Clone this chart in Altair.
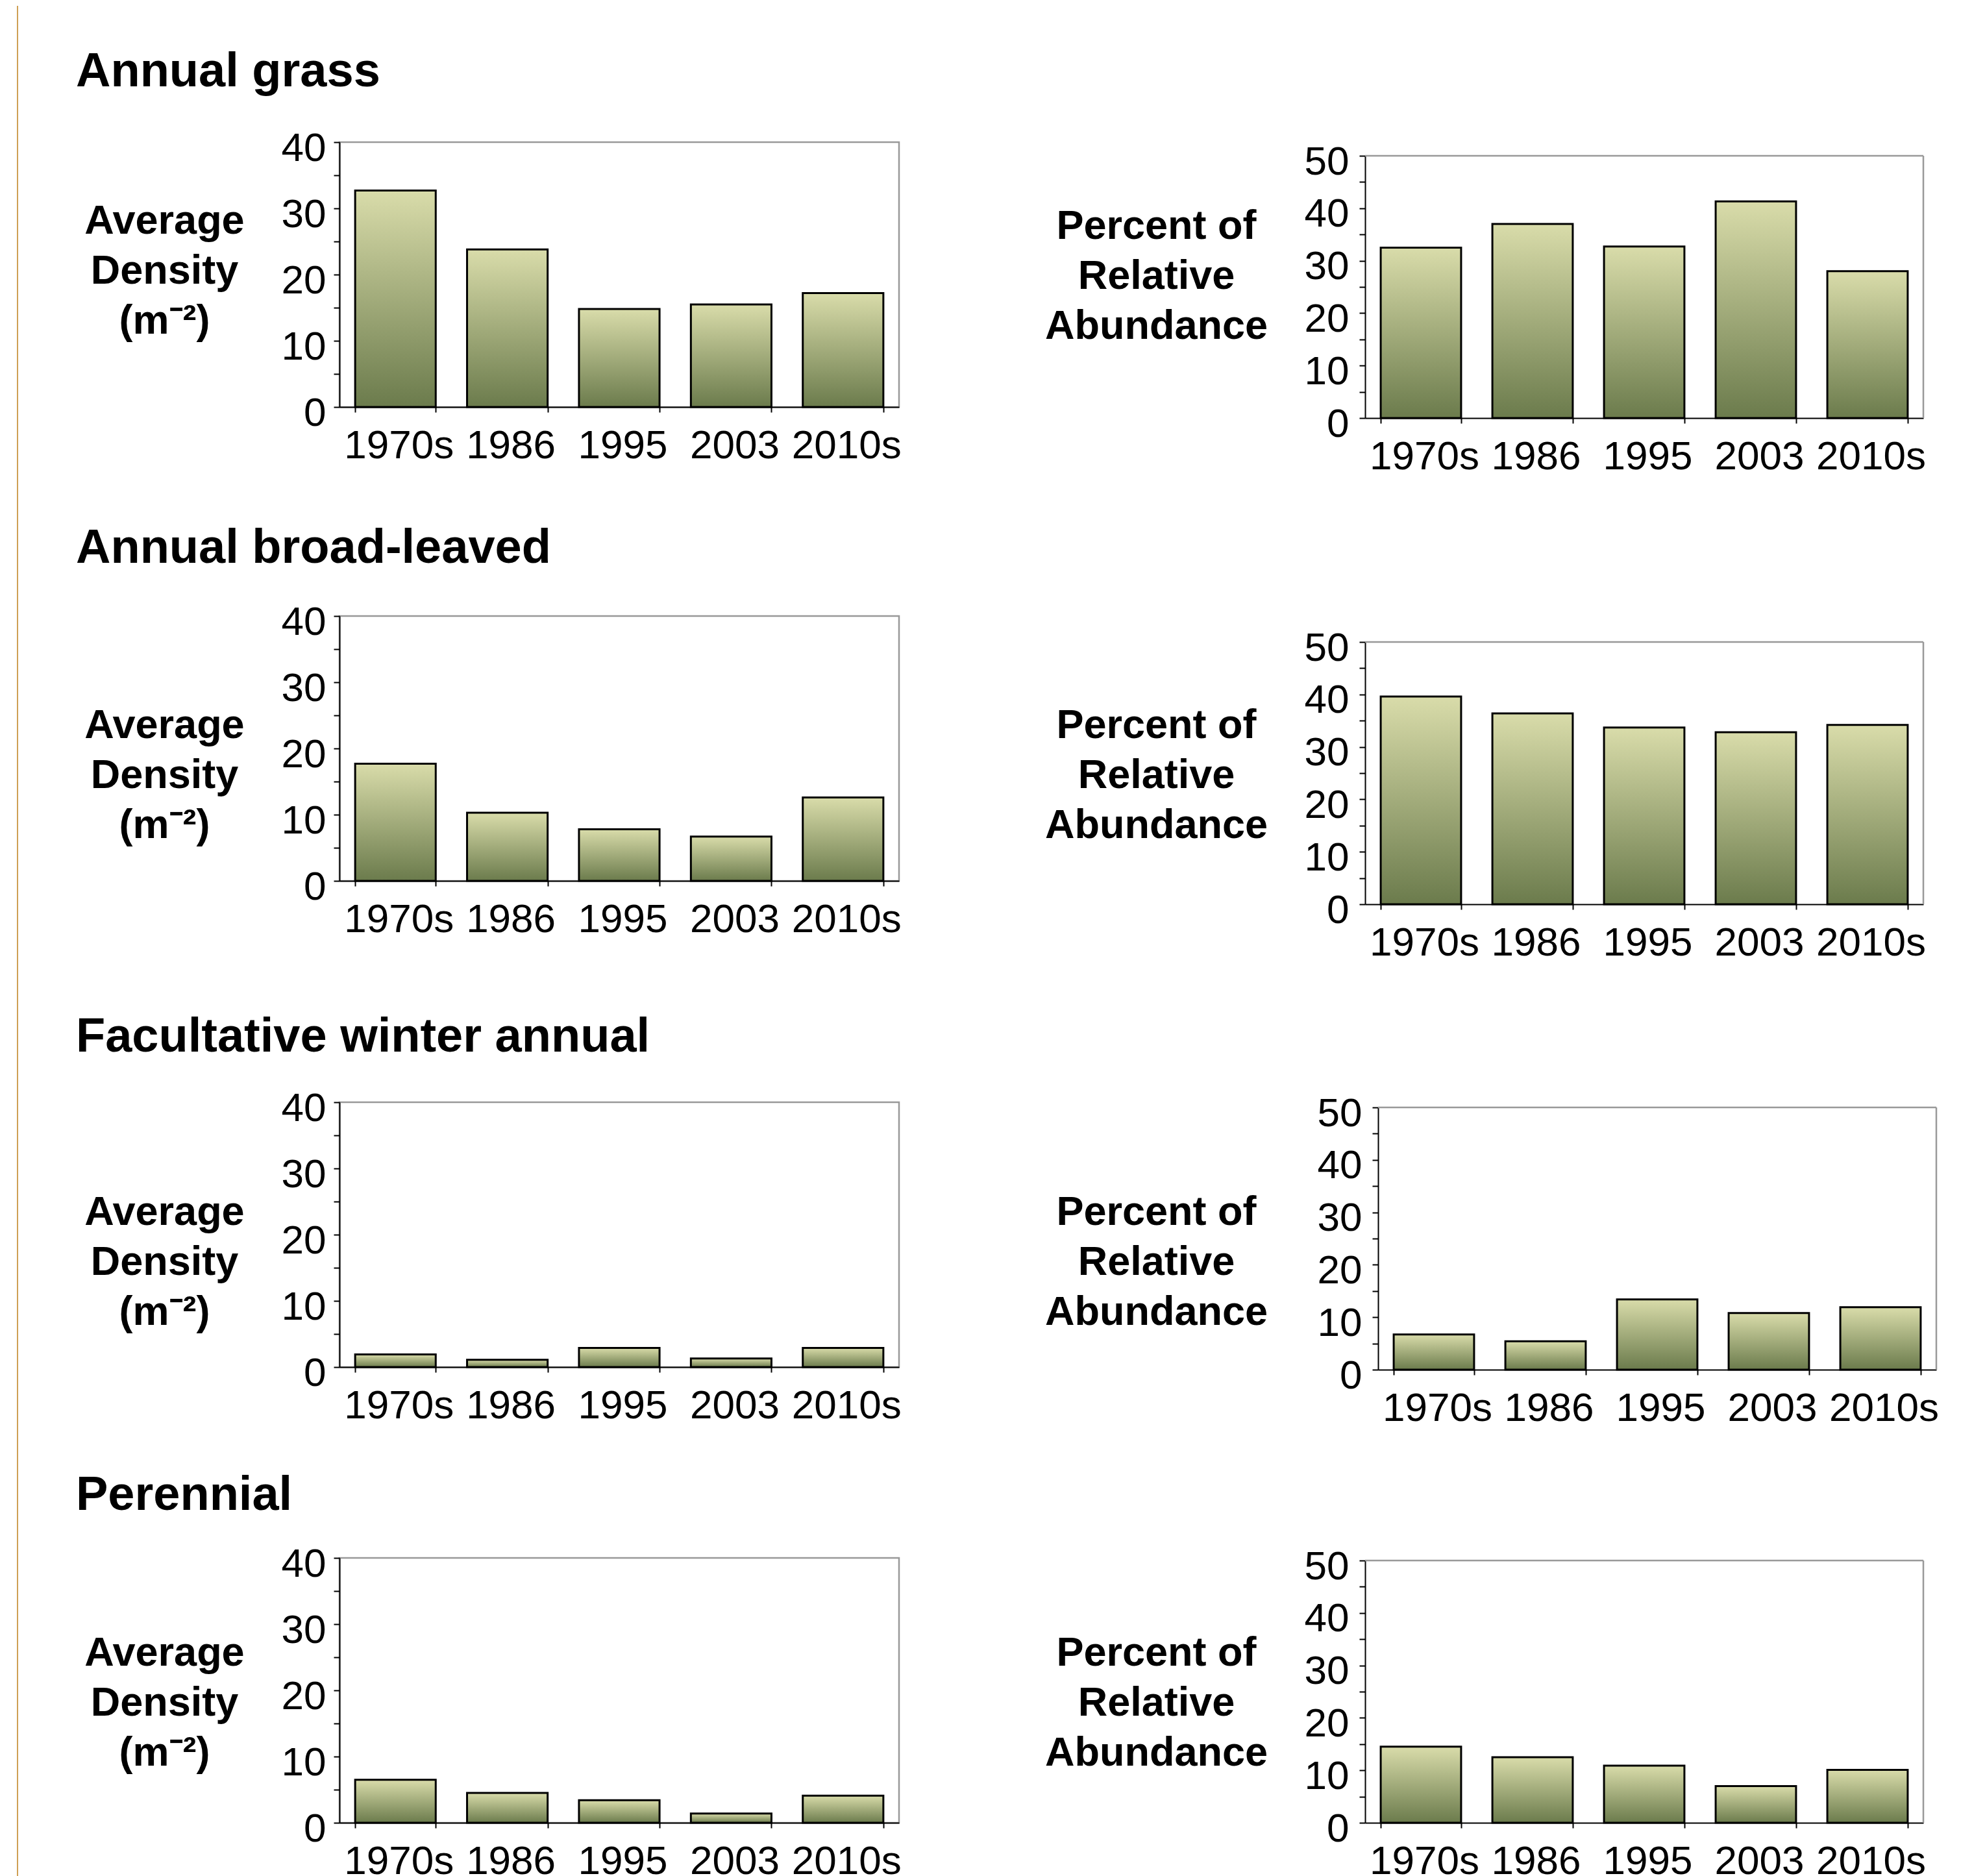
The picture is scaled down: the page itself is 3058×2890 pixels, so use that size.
import altair as alt
import pandas as pd

periods = ["1970s", "1986", "1995", "2003", "2010s"]

grass_density = [32.7, 23.8, 14.8, 15.5, 17.2]
grass_percent = [32.5, 37.0, 32.7, 41.3, 28.0]
broad_density = [17.7, 10.3, 7.8, 6.7, 12.6]
broad_percent = [39.6, 36.4, 33.7, 32.8, 34.2]
fac_density = [1.9, 1.1, 2.9, 1.3, 2.9]
fac_percent = [6.7, 5.4, 13.4, 10.8, 11.9]
per_density = [6.5, 4.5, 3.4, 1.4, 4.1]
per_percent = [14.5, 12.5, 10.9, 7.0, 10.1]

row_titles = ["Annual grass", "Annual broad-leaved", "Facultative winter annual", "Perennial"]
density_title = ["Average", "Density", "(m\u207b\u00b2)"]
percent_title = ["Percent of", "Relative", "Abundance"]

FONT = "Liberation Sans"
FRAME = "#999999"
BAR_FILL = alt.Gradient(
    gradient="linear",
    stops=[alt.GradientStop(color="#d9dcaa", offset=0),
           alt.GradientStop(color="#6b7b4c", offset=1)],
    x1=0, x2=0, y1=0, y2=1,
)


def panel(values, ymax, title_lines, tx, ty, width, height, label_pad,
          row_title=None, title_dy=0, off_x=0, off_y=0):
    df = pd.DataFrame({"period": periods, "value": values})
    yvals = list(range(0, ymax + 1, 5))
    shifted = off_x > 0 or off_y > 0
    xscale = alt.Scale(paddingInner=0.28, paddingOuter=0.14)
    yscale = alt.Scale(domain=[0, ymax], nice=False, zero=True)
    if shifted:
        xscale = alt.Scale(paddingInner=0.28, paddingOuter=0.14, range=[off_x, off_x + width])
        yscale = alt.Scale(domain=[0, ymax], nice=False, zero=True, range=[off_y + height, off_y])
    yaxis_kw = dict(
        values=yvals, labelExpr="datum.value % 10 == 0 ? datum.label : ''",
        tickSize=9, tickWidth=2, tickColor="black", domainColor="black", domainWidth=2,
        labelFont=FONT, labelFontSize=62, labelColor="black", labelPadding=label_pad,
        labelOffset=9, grid=False,
        title=title_lines, titleAngle=0, titleAlign="center", titleBaseline="middle",
        titleX=tx, titleY=ty, titleFont=FONT, titleFontSize=63, titleFontWeight="bold",
        titleColor="black", titleLineHeight=77,
    )
    if off_x > 0:
        yaxis_kw["offset"] = -off_x
    bars = alt.Chart(df).mark_bar(fill=BAR_FILL, stroke="black", strokeWidth=3).encode(
        x=alt.X(
            "period:N", sort=periods, scale=xscale,
            axis=alt.Axis(
                title=None, labelAngle=0, tickBand="extent", tickSize=8, tickWidth=2,
                tickColor="black", domainColor="black", domainWidth=2,
                labelFont=FONT, labelFontSize=62, labelColor="black", labelPadding=21,
                labelOffset=5, labelLimit=0, grid=False,
            ),
        ),
        y=alt.Y("value:Q", scale=yscale, axis=alt.Axis(**yaxis_kw)),
    )
    props = dict(width=width + off_x, height=height + off_y)
    if row_title is not None:
        props["title"] = alt.TitleParams(
            text=row_title, anchor="start", frame="group", dx=-406, dy=title_dy,
            font=FONT, fontSize=74, fontWeight="bold", color="black",
            baseline="alphabetic", offset=0,
        )
    if shifted:
        one = pd.DataFrame({"v": [0]})
        top_edge = alt.Chart(one).mark_rule(color=FRAME, strokeWidth=2.5).encode(
            y=alt.datum(ymax), x=alt.value(off_x), x2=alt.value(off_x + width)
        )
        right_edge = alt.Chart(one).mark_rule(color=FRAME, strokeWidth=2.5).encode(
            x=alt.value(off_x + width), y=alt.datum(0), y2=alt.datum(ymax)
        )
        props["view"] = alt.ViewBackground(strokeWidth=0, strokeOpacity=0)
        return alt.layer(top_edge, right_edge, bars).properties(**props)
    return bars.properties(**props)


def spacer(w, h, rule=False):
    base = alt.Chart(pd.DataFrame({"v": [0]})).mark_point(opacity=0).encode(
        x=alt.value(0), y=alt.value(0)
    )
    layers = [base]
    if rule:
        layers.append(
            alt.Chart(pd.DataFrame({"v": [0]})).mark_rule(color="#cfa055", strokeWidth=2).encode(
                x=alt.value(-496), y=alt.value(-635), y2=alt.value(2260)
            )
        )
    return alt.layer(*layers).properties(
        width=w, height=h, view=alt.ViewBackground(strokeWidth=0, strokeOpacity=0)
    )


LW, LH = 862, 408
RW, RH = 860, 404

L1 = panel(grass_density, 40, density_title, -270, 121, LW, LH, 12, row_titles[0], 10)
L2 = panel(broad_density, 40, density_title, -270, 168, LW, LH, 12, row_titles[1], 14)
L3 = panel(fac_density, 40, density_title, -270, 169, LW, LH, 12, row_titles[2], 18)
L4 = panel(per_density, 40, density_title, -270, 146, LW, LH, 12, row_titles[3], 22)

R1 = panel(grass_percent, 50, percent_title, -322, 129, RW, RH, 16, off_y=21)
R2 = panel(broad_percent, 50, percent_title, -322, 168, RW, RH, 16, off_y=40)
R3 = panel(fac_percent, 50, percent_title, -342, 169, RW, RH, 16, off_x=20, off_y=8)
R4 = panel(per_percent, 50, percent_title, -322, 146, RW, RH, 16, off_y=4)

cells = [
    L1, R1,
    spacer(1, 305, rule=True), spacer(1, 305),
    L2, R2,
    spacer(1, 305), spacer(1, 305),
    L3, R3,
    spacer(1, 290), spacer(1, 290),
    L4, R4,
]

chart = alt.concat(
    *cells, columns=2, spacing={"row": 0, "column": 718}, bounds="flush"
).properties(
    padding={"left": 18, "top": 0, "right": 5, "bottom": 0},
    background="white",
).configure(font=FONT).configure_view(stroke=FRAME, strokeWidth=2.5)

chart.save("out.html", embed_options={"renderer": "svg", "actions": False})
